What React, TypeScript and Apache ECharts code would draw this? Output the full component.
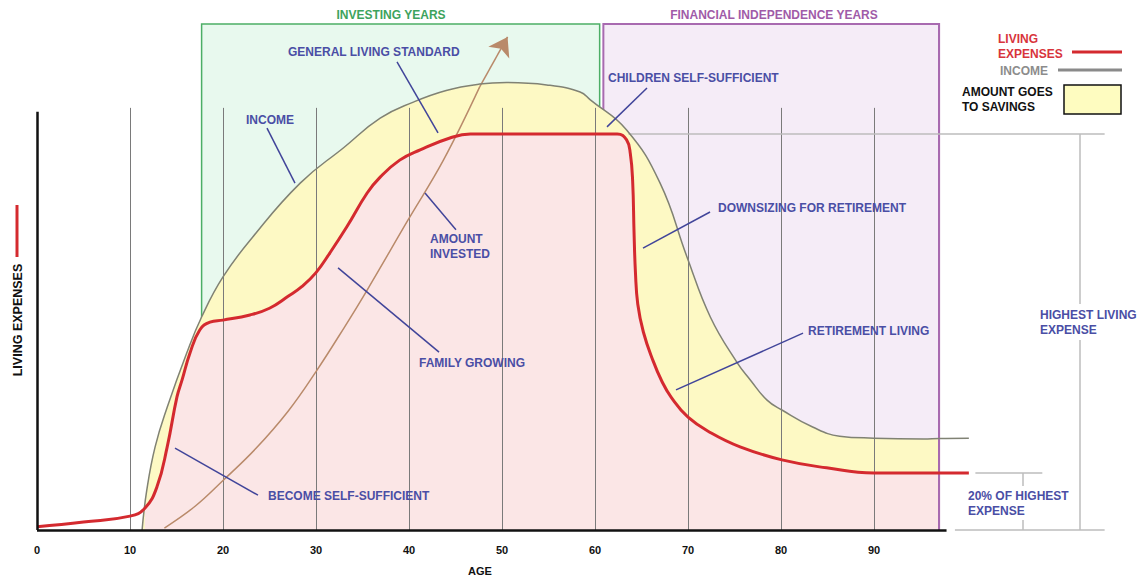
import React, { useEffect, useRef } from "react";
import * as echarts from "echarts";

// ---- data (x = age, y = % of highest living expense) ----
const AGE_TICKS = [0, 10, 20, 30, 40, 50, 60, 70, 80, 90];

const expenseAges = [0, 5, 10, 11.6, 12.9, 14, 15.05, 15.6, 16.45, 17.5, 18.6, 20, 22.9, 25, 27, 28.5, 30, 31.5, 33.3, 35.5, 36.9, 39, 41.2, 44.4, 46.6, 55, 62.4, 63.4, 63.8, 64.05, 64.2, 64.35, 64.6, 65.2, 66.2, 67.2, 68.2, 70, 72.5, 75.6, 80.1, 84.9, 90, 97, 100.2];
const expenseValues = [0.8, 2, 3.5, 5.5, 10.9, 21, 33.6, 37.9, 44.7, 50.5, 52.5, 53, 54.3, 56, 59, 61.5, 65, 70, 76.5, 85.1, 89.1, 93.4, 96, 99, 100, 100, 100, 98.5, 95, 88, 75, 65, 57, 50, 43, 37.5, 33.5, 28.5, 24.5, 21, 17.7, 15.7, 14.4, 14.4, 14.4];

const incomeAges = [11.3, 11.8, 12.7, 14, 16.1, 17.7, 20, 23.2, 28.3, 33, 36.9, 40.4, 44, 47.6, 50.5, 54.8, 58.4, 59.5, 63.4, 67, 69.9, 72.4, 75.3, 76.7, 78.5, 80.1, 83.4, 86.3, 90, 95.3, 97, 100.2];
const incomeValues = [0, 10, 21, 31, 44.7, 53.8, 63.9, 74, 87.6, 96.6, 104, 108, 111, 112.6, 113, 112.4, 110.6, 108.6, 101, 87.6, 68.9, 53.8, 42.2, 37.9, 32.8, 30.3, 26, 23.7, 23.2, 23, 23.1, 23.2];

const investedAges = [13.7, 17, 20, 23.5, 27, 30, 33, 35.5, 39.9, 43.7, 47.6, 50.6];
const investedValues = [0.5, 6, 12.5, 20.5, 30, 40, 51, 60.6, 78.3, 93.4, 111.9, 124.5];

const investingYears = [17.7, 60.5];
const independenceYears = [60.9, 97];
const periodTop = 127.8;
const gridTop = 106.6;
const axisTop = 105.6;
const axisEnd = 97.8;
const HIGHEST = 100;
const FINAL = 14.4;
const SELF_SUFFICIENT_AGE = 11.6;

const pairs = (xs: number[], ys: number[]) => xs.map((x, i) => [x, ys[i]]);

const FONT = '"Liberation Sans", Arial, sans-serif';
const BLUE = "#4a4ea5";
const LEADER = "#41459a";
const RED = "#d42a2f";
const SMOOTH = 0.45;

function buildOption() {
  const expense = pairs(expenseAges, expenseValues);
  const income = pairs(incomeAges, incomeValues);
  const invested = pairs(investedAges, investedValues);
  const fillEnd = independenceYears[1];
  const incomeFill = income.filter((p) => p[0] <= fillEnd);
  const expenseFill = expense.filter((p) => p[0] >= SELF_SUFFICIENT_AGE && p[0] <= fillEnd);
  const n = invested.length;

  const gridLines = AGE_TICKS.filter((a) => a > 0).map((a) => ({ coords: [[a, 0], [a, gridTop]] }));

  const leaders = [
    [[24.73, 101.5], [27.74, 87.6]],
    [[38.71, 118.2], [43.12, 100.3]],
    [[65.59, 111.6], [61.29, 101.8]],
    [[41.72, 85.1], [45.05, 75.8]],
    [[32.37, 66.2], [43.23, 44.9]],
    [[65.16, 71.2], [72.37, 80.3]],
    [[68.71, 35.4], [82.37, 49.7]],
    [[14.84, 20.7], [23.76, 8.8]],
  ].map((c) => ({ coords: c }));

  const brackets = [
    { coords: [[63.6, HIGHEST], [114.8, HIGHEST]] },
    { coords: [[112.15, 0], [112.15, HIGHEST]] },
    { coords: [[98.7, 0], [114.8, 0]] },
    { coords: [[100.9, FINAL], [108.1, FINAL]] },
    { coords: [[106, 0], [106, FINAL]] },
  ];

  const txt = (text: string, x: number, y: number, fill: string, extra: any = {}, el: any = {}) => ({
    type: "text",
    x,
    y,
    z: 100,
    ...el,
    style: {
      text,
      fill,
      font: `bold 12px ${FONT}`,
      align: "left",
      verticalAlign: "middle",
      textAlign: "left",
      textVerticalAlign: "middle",
      lineHeight: 15,
      ...extra,
    },
  });

  const graphic = [
    txt("INVESTING YEARS", 391, 15, "#3da35d", { align: "center", textAlign: "center" }),
    txt("FINANCIAL INDEPENDENCE YEARS", 774, 15, "#a05ba8", { align: "center", textAlign: "center" }),
    txt("GENERAL LIVING STANDARD", 288, 52, BLUE),
    txt("INCOME", 246, 120, BLUE),
    txt("CHILDREN SELF-SUFFICIENT", 608, 78, BLUE),
    txt("AMOUNT\nINVESTED", 430, 246, BLUE),
    txt("FAMILY GROWING", 419, 363, BLUE),
    txt("DOWNSIZING FOR RETIREMENT", 718, 208, BLUE),
    txt("RETIREMENT LIVING", 808, 331, BLUE),
    txt("BECOME SELF-SUFFICIENT", 268, 496, BLUE),
    txt("HIGHEST LIVING\nEXPENSE", 1040, 322, BLUE, { backgroundColor: "#fff", padding: [3, 0, 3, 0] }),
    txt("20% OF HIGHEST\nEXPENSE", 968, 503, BLUE, { backgroundColor: "#fff", padding: [2, 0, 2, 0] }),
    txt("LIVING\nEXPENSES", 998, 46, "#d8343c"),
    txt("INCOME", 1000, 71, "#8c8c8c"),
    txt("AMOUNT GOES\nTO SAVINGS", 962, 99, "#111"),
    txt("LIVING EXPENSES", 18, 320, "#111", { align: "center", textAlign: "center", font: `bold 12.5px ${FONT}` }, { rotation: Math.PI / 2 }),
    txt("AGE", 480, 571, "#111", { align: "center", textAlign: "center", font: `bold 11px ${FONT}` }),
    { type: "line", z: 100, shape: { x1: 1072, y1: 52, x2: 1122, y2: 52 }, style: { stroke: RED, lineWidth: 3 } },
    { type: "line", z: 100, shape: { x1: 1058, y1: 70, x2: 1122, y2: 70 }, style: { stroke: "#8a8a8a", lineWidth: 3 } },
    { type: "line", z: 100, shape: { x1: 17, y1: 205, x2: 17, y2: 257 }, style: { stroke: RED, lineWidth: 3 } },
    { type: "rect", z: 100, shape: { x: 1064, y: 85, width: 57, height: 29 }, style: { fill: "#fefcc0", stroke: "#111", lineWidth: 1.5 } },
  ];

  return {
    animation: false,
    backgroundColor: "#fff",
    textStyle: { fontFamily: FONT },
    grid: { left: 37, right: 173, top: 15.2, bottom: 46, containLabel: false },
    xAxis: {
      type: "value",
      min: 0,
      max: 100,
      interval: 10,
      axisLine: { show: false },
      axisTick: { show: false },
      splitLine: { show: false },
      axisLabel: { showMaxLabel: false, fontWeight: "bold", fontSize: 11, color: "#111", margin: 14, fontFamily: FONT },
    },
    yAxis: { type: "value", min: 0, max: 130, show: false, splitLine: { show: false } },
    graphic,
    series: [
      {
        type: "line",
        data: [],
        z: 1,
        silent: true,
        markArea: {
          silent: true,
          data: [
            [
              { coord: [investingYears[0], 0], itemStyle: { color: "#e8f9ee", borderColor: "#4cae66", borderWidth: 1.5 } },
              { coord: [investingYears[1], periodTop] },
            ],
            [
              { coord: [independenceYears[0], 0], itemStyle: { color: "#f5ecf7", borderColor: "#a86ab0", borderWidth: 2 } },
              { coord: [independenceYears[1], periodTop] },
            ],
          ],
        },
      },
      {
        type: "line",
        data: incomeFill,
        z: 2,
        smooth: SMOOTH,
        symbol: "none",
        lineStyle: { width: 0 },
        areaStyle: { color: "#fdf9c4", opacity: 1 },
        silent: true,
      },
      {
        type: "line",
        data: expenseFill,
        z: 3,
        smooth: SMOOTH,
        symbol: "none",
        lineStyle: { width: 0 },
        areaStyle: { color: "#fbe6e6", opacity: 1 },
        silent: true,
      },
      {
        type: "lines",
        coordinateSystem: "cartesian2d",
        z: 4,
        clip: false,
        silent: true,
        lineStyle: { color: "#7a7a7a", width: 1, opacity: 1 },
        data: gridLines,
      },
      {
        type: "lines",
        coordinateSystem: "cartesian2d",
        z: 4,
        clip: false,
        silent: true,
        lineStyle: { color: "#a86ab0", width: 2, opacity: 1 },
        data: [{ coords: [[independenceYears[1], 0], [independenceYears[1], periodTop]] }],
      },
      {
        type: "lines",
        coordinateSystem: "cartesian2d",
        z: 4,
        clip: false,
        silent: true,
        lineStyle: { color: "#bdbdbd", width: 1.5, opacity: 1 },
        data: brackets,
      },
      {
        type: "line",
        data: invested.slice(0, n - 1),
        z: 5,
        smooth: 0.4,
        symbol: "none",
        lineStyle: { color: "#b98a6a", width: 1.5 },
        silent: true,
      },
      {
        type: "lines",
        coordinateSystem: "cartesian2d",
        z: 5,
        clip: false,
        silent: true,
        symbol: ["none", "arrow"],
        symbolSize: 18,
        lineStyle: { color: "#b98a6a", width: 1.5, opacity: 1 },
        itemStyle: { color: "#c27d55" },
        data: [{ coords: [invested[n - 2], invested[n - 1]] }],
      },
      {
        type: "line",
        data: income,
        z: 6,
        smooth: SMOOTH,
        symbol: "none",
        lineStyle: { color: "#808274", width: 1.5 },
        silent: true,
      },
      {
        type: "line",
        data: expense,
        z: 7,
        smooth: SMOOTH,
        symbol: "none",
        lineStyle: { color: RED, width: 3 },
        silent: true,
      },
      {
        type: "lines",
        coordinateSystem: "cartesian2d",
        z: 8,
        clip: false,
        silent: true,
        lineStyle: { color: "#111", width: 2.5, opacity: 1 },
        data: [
          { coords: [[0, 0], [axisEnd, 0]] },
          { coords: [[0, 0], [0, axisTop]] },
        ],
      },
      {
        type: "lines",
        coordinateSystem: "cartesian2d",
        z: 9,
        clip: false,
        silent: true,
        lineStyle: { color: LEADER, width: 1.5, opacity: 1 },
        data: leaders,
      },
    ],
  };
}

export default function App() {
  const ref = useRef<HTMLDivElement>(null);
  useEffect(() => {
    if (!ref.current) return;
    const chart = echarts.init(ref.current, null, { renderer: "svg" });
    chart.setOption(buildOption() as any);
    return () => chart.dispose();
  }, []);
  return (
    <div
      ref={ref}
      style={{ position: "fixed", left: 0, top: 0, width: 1140, height: 576, background: "#fff" }}
    />
  );
}
